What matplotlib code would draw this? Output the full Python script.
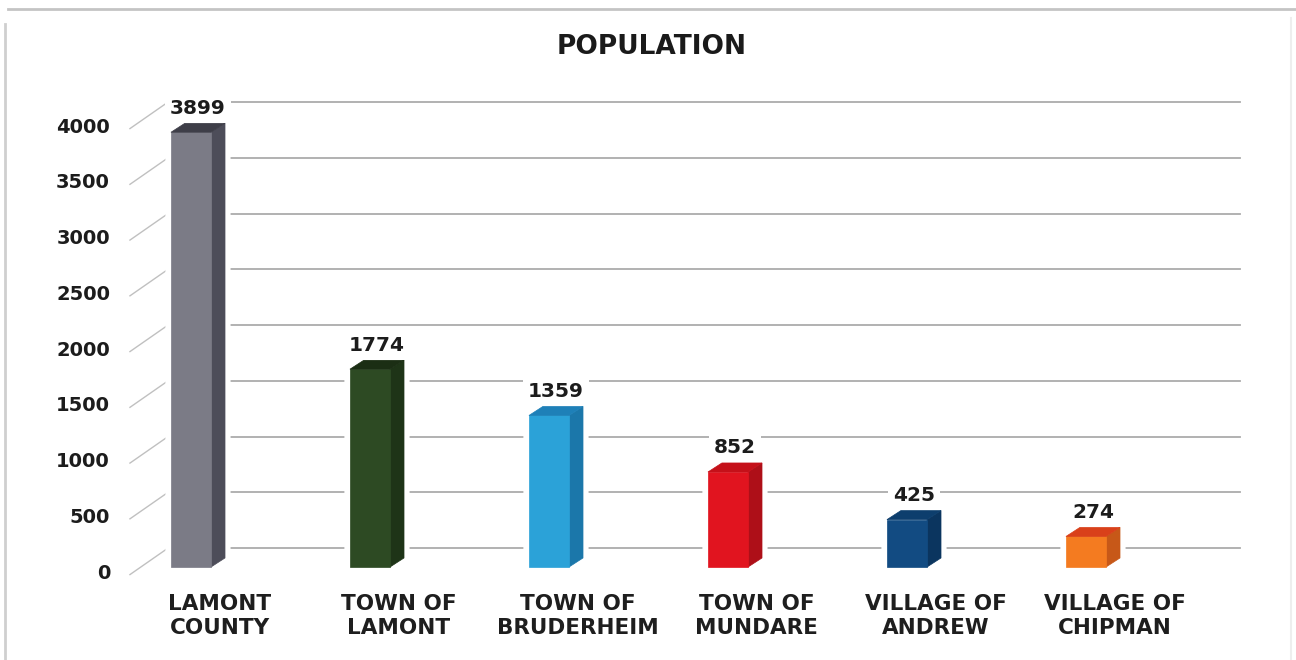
import matplotlib
matplotlib.use("Agg")
import matplotlib.pyplot as plt
from matplotlib.patches import Polygon
from matplotlib.lines import Line2D

categories = ["LAMONT\nCOUNTY", "TOWN OF\nLAMONT", "TOWN OF\nBRUDERHEIM",
              "TOWN OF\nMUNDARE", "VILLAGE OF\nANDREW", "VILLAGE OF\nCHIPMAN"]
values = [3899, 1774, 1359, 852, 425, 274]
ticks = [0, 500, 1000, 1500, 2000, 2500, 3000, 3500, 4000]
title = "POPULATION"

front_colors = ["#7b7b86", "#2d4a23", "#2ba2d8", "#e1141f", "#124b82", "#f47b20"]
side_colors = ["#4d4d59", "#1e3417", "#1b77aa", "#ae0f18", "#0b355f", "#c75818"]
top_colors = ["#3e3e48", "#1b2e14", "#1e80b8", "#c51019", "#0d3e6d", "#d9401a"]

plt.rcParams['font.family'] = ['DejaVu Sans']

W, H = 1296, 660
fig = plt.figure(figsize=(W / 100, H / 100), dpi=100)
ax = fig.add_axes([0, 0, 1, 1])
ax.set_xlim(-191 / 179, (W - 191) / 179)
ax.set_ylim((567 - H) / 0.1115, 567 / 0.1115)
ax.axis('off')

# 3D geometry (in data units)
half_w = 0.112
dx, dy = 0.078, 81
back_dy = 170
grid_x0, grid_x1 = -0.128, 5.86
diag_x0, diag_dy0 = -0.341, -68

# gridlines (back plane) + perspective diagonals
for v in ticks:
    ax.plot([grid_x0, grid_x1], [v + back_dy, v + back_dy], color="#ababab", lw=1.3, zorder=1)
    ax.plot([diag_x0, grid_x0], [v + diag_dy0, v + back_dy], color="#c0c0c0", lw=1.0, zorder=1)
    ax.text(-0.4525, v - 54, f"{v}", ha="right", va="center", fontsize=14,
            fontweight="bold", color="#1c1c1c", zorder=5)

for i, v in enumerate(values):
    x0, x1 = i - half_w, i + half_w
    front = [(x0, 0), (x1, 0), (x1, v), (x0, v)]
    side = [(x1, 0), (x1 + dx, dy), (x1 + dx, v + dy), (x1, v)]
    top = [(x0, v), (x1, v), (x1 + dx, v + dy), (x0 + dx, v + dy)]
    outline = [(x0, 0), (x1, 0), (x1 + dx, dy), (x1 + dx, v + dy), (x0 + dx, v + dy), (x0, v)]
    ax.add_patch(Polygon(outline, closed=True, facecolor="white", edgecolor="white", lw=8, zorder=2))
    ax.add_patch(Polygon(side, closed=True, facecolor=side_colors[i], edgecolor=side_colors[i], lw=0.5, zorder=3))
    ax.add_patch(Polygon(front, closed=True, facecolor=front_colors[i], edgecolor=front_colors[i], lw=0.5, zorder=3))
    ax.add_patch(Polygon(top, closed=True, facecolor=top_colors[i], edgecolor=top_colors[i], lw=0.5, zorder=3))
    ax.text(i + dx / 2, v + dy + 50, f"{v}", ha="center", va="bottom", fontsize=14.5,
            fontweight="bold", color="#1c1c1c", zorder=5,
            bbox=dict(boxstyle="square,pad=0.25", facecolor="white", edgecolor="none"))
    ax.text(i + 0.16, -245, categories[i], ha="center", va="top", fontsize=15.5,
            fontweight="bold", color="#1e1e1e", linespacing=1.25, zorder=5)

fig.text(652 / W, 1 - 47 / H, title, ha="center", va="center", fontsize=19,
         fontweight="bold", color="#1a1a1a")

# frame lines
fig.add_artist(Line2D([8 / W, 1], [1 - 9 / H, 1 - 9 / H], color="#c4c4c4", lw=2))
fig.add_artist(Line2D([5 / W, 5 / W], [0, 1 - 24 / H], color="#cfcfcf", lw=2))
fig.add_artist(Line2D([1291 / W, 1291 / W], [0, 1 - 18 / H], color="#eeeeee", lw=1.5))

fig.savefig("out.png", dpi=100, facecolor="white")
